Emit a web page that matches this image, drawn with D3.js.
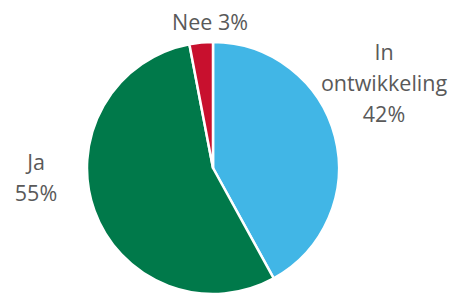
<!DOCTYPE html>
<html><head><meta charset="utf-8">
<script src="https://cdn.jsdelivr.net/npm/d3@7"></script>
<style>body{margin:0;background:#fff}svg{display:block}</style>
</head><body>
<script>
const categories = ["In ontwikkeling", "Ja", "Nee"];
const values = [42, 55, 3];
const labelLines = [["In", "ontwikkeling", "42%"], ["Ja", "55%"], ["Nee 3%"]];
const colors = ["#41B6E6", "#00794A", "#C8102E"];

const W = 456, H = 295;
const cx = 213, cy = 168, r = 126;
const svg = d3.select("body").append("svg").attr("width", W).attr("height", H);
const g = svg.append("g").attr("transform", `translate(${cx},${cy})`);
const pie = d3.pie().sort(null).value(d => d)(values);
const arc = d3.arc().innerRadius(0).outerRadius(r);
g.selectAll("path").data(pie).join("path")
  .attr("d", arc).attr("fill", (d,i) => colors[i])
  .attr("stroke", "#fff").attr("stroke-width", 2.5).attr("stroke-linejoin", "round");

const labelPos = [[384, 60], [36, 170], [210, 30]];
const lh = 31;
labelLines.forEach((lines, i) => {
  const t = svg.append("text").attr("text-anchor", "middle")
    .attr("font-family", "'Open Sans', sans-serif").attr("font-size", 21.5).attr("fill", "#595959");
  lines.forEach((s, j) => {
    t.append("tspan").attr("x", labelPos[i][0]).attr("y", labelPos[i][1] + j * lh).text(s);
  });
});
</script>
</body></html>
